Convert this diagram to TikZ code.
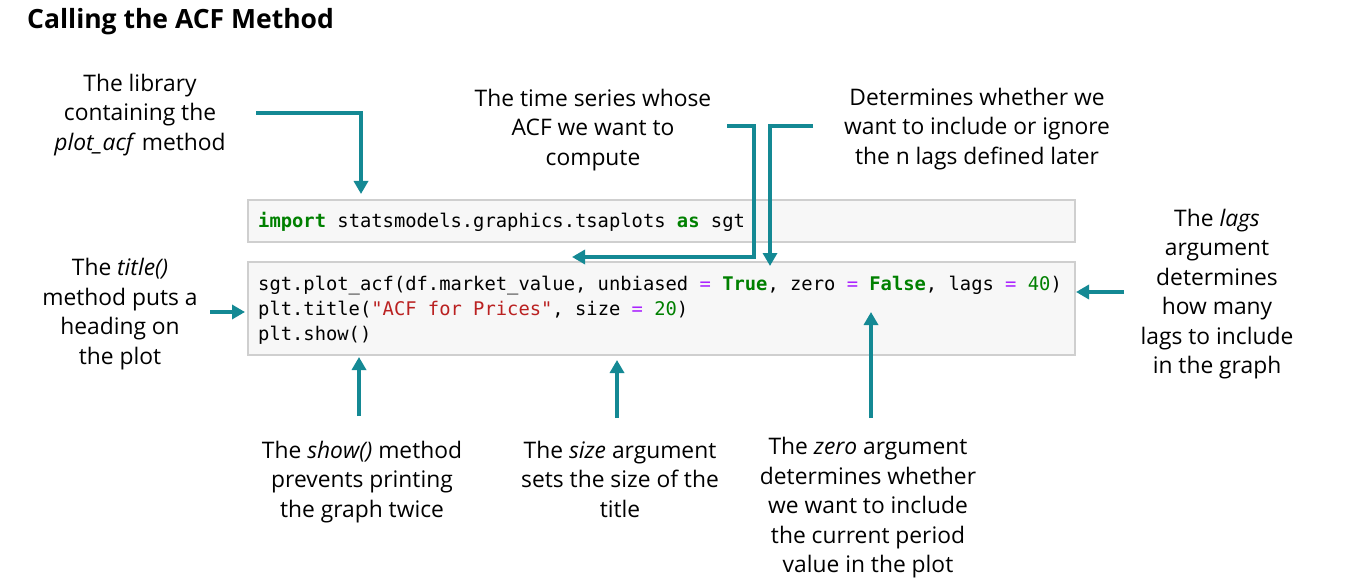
\documentclass[tikz,border=0pt]{standalone}
\usepackage{fontspec}
\setmainfont{Open Sans}
\newfontfamily\codefont{DejaVu Sans Mono}
\usetikzlibrary{arrows.meta}
\definecolor{teal1}{RGB}{20,137,148}
\definecolor{boxfill}{RGB}{247,247,247}
\definecolor{boxline}{RGB}{207,207,207}
\definecolor{kwc}{RGB}{0,128,0}
\definecolor{opc}{RGB}{170,34,255}
\definecolor{strc}{RGB}{186,33,33}
\newcommand{\kw}[1]{\textcolor{kwc}{\bfseries #1}}
\newcommand{\opr}[1]{\textcolor{opc}{#1}}
\newcommand{\nm}[1]{\textcolor{kwc}{#1}}
\newcommand{\str}[1]{\textcolor{strc}{#1}}
\tikzset{
  arr/.style={draw=teal1, line width=3.6pt, -{Triangle[length=13pt,width=14pt]}},
  codebox/.style={fill=boxfill, draw=boxline, line width=1.5pt},
  label/.style={align=center, inner sep=0pt, font=\fontsize{22.8}{29.5}\selectfont},
  code/.style={anchor=base west, inner sep=0pt, font=\codefont\fontsize{18.8}{25}\selectfont},
}
\begin{document}
\begin{tikzpicture}[x=1pt,y=-1pt]
\useasboundingbox (0,0) rectangle (1360,588);
\fill[white] (0,0) rectangle (1360,588);
% title
\node[anchor=west, inner sep=0pt, font=\bfseries\fontsize{26.5}{30}\selectfont] (title) at (27,22) {Calling the ACF Method};
% code boxes
\draw[codebox] (248,200) rectangle (1075,242);
\draw[codebox] (248,262) rectangle (1075,355);
\node[code] (c1) at (258,228) {\kw{import} statsmodels.graphics.tsaplots \kw{as} sgt};
\node[code] (c2) at (258,290) {sgt.plot\_acf(df.market\_value, unbiased \opr{=} \kw{True}, zero \opr{=} \kw{False}, lags \opr{=} \nm{40})};
\node[code] (c3) at (258,315) {plt.title(\str{"ACF for Prices"}, size \opr{=} \nm{20})};
\node[code] (c4) at (258,340) {plt.show()};
% labels
\node[label] (lib) at (140,115) {The library\\containing the\\\textit{plot\_acf} method};
\node[label] (ts) at (593,130) {The time series whose\\ACF we want to\\compute};
\node[label] (det) at (977,129) {Determines whether we\\want to include or ignore\\the n lags defined later};
\node[label] (tit) at (120,314) {The \textit{title()}\\method puts a\\heading on\\the plot};
\node[label] (lags) at (1217,294) {The \textit{lags}\\argument\\determines\\how many\\lags to include\\in the graph};
\node[label] (show) at (362,482) {The \textit{show()} method\\prevents printing\\the graph twice};
\node[label] (size) at (620,479) {The \textit{size} argument\\sets the size of the\\title};
\node[label] (zero) at (868,508) {The \textit{zero} argument\\determines whether\\we want to include\\the current period\\value in the plot};
% connector coordinates
\coordinate (a1s) at (256,113);
\coordinate (a1e) at (361,194);
\coordinate (a2s) at (727,126);
\coordinate (a2c) at (754,257);
\coordinate (a2e) at (572,257);
\coordinate (a3s) at (813,126);
\coordinate (a3e) at (770,266);
\coordinate (a4s) at (210,312);
\coordinate (a4e) at (245,312);
\coordinate (a5s) at (1124,292);
\coordinate (a5e) at (1076,292);
\coordinate (a6s) at (359,416);
\coordinate (a6e) at (359,357);
\coordinate (a7s) at (617,418);
\coordinate (a7e) at (617,360);
\coordinate (a8s) at (871,418);
\coordinate (a8e) at (871,312);
% connectors
\draw[arr] (a1s) -| (a1e);
\draw[arr] (a2s) -| (a2c) -- (a2e);
\draw[arr] (a3s) -| (a3e);
\draw[arr] (a4s) -- (a4e);
\draw[arr] (a5s) -- (a5e);
\draw[arr] (a6s) -- (a6e);
\draw[arr] (a7s) -- (a7e);
\draw[arr] (a8s) -- (a8e);
\end{tikzpicture}
\end{document}
